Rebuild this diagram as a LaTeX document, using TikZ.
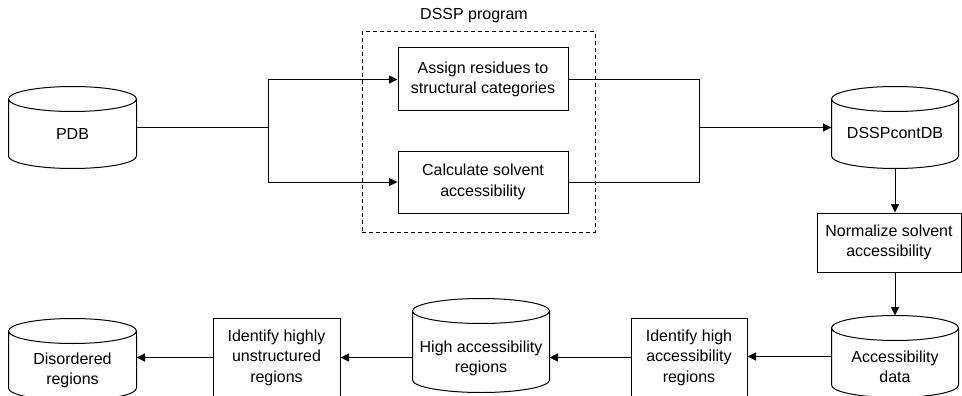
\documentclass[tikz,border=0pt]{standalone}
\usepackage{fontspec}
\setmainfont{Liberation Sans}
\usetikzlibrary{arrows.meta,calc}
\begin{document}
\begin{tikzpicture}[x=1pt,y=-1pt,line width=1pt,
    font=\fontsize{16}{20.5}\selectfont,
    proc/.style={draw,align=center,inner sep=0pt},
    db/.style={inner sep=0pt,minimum width=126pt,minimum height=81pt},
    dbtext/.style={align=center,yshift=#1},
    dbtext/.default=-6pt,
    arr/.style={-{Triangle[length=8.5pt,width=8pt]}}]
    \useasboundingbox (0,0) rectangle (962,396);
    %
    \node[draw,dash pattern=on 4pt off 3pt,minimum width=233pt,minimum height=200pt] (dssp) at (478.5,132) {};
    \node (dssptitle) at (474,16) {DSSP program};
    %
    \node[db,minimum width=127pt,label={[dbtext]center:PDB}] (pdb) at (72.5,127.5) {};
    \node[db,label={[dbtext=-5pt]center:DSSPcontDB}] (dsspdb) at (895,127.5) {};
    \node[db,label={[dbtext=-10.5pt]center:Accessibility\\data}] (accdata) at (895,356.5) {};
    \node[db,minimum width=136pt,minimum height=93pt,label={[dbtext=-13pt]center:High accessibility\\regions}] (highacc) at (481,345.5) {};
    \node[db,minimum width=127pt,label={[dbtext=-11pt]center:Disordered\\regions}] (disord) at (72.5,359.5) {};
    %
    \foreach \db in {pdb,dsspdb,accdata,highacc,disord}
      \draw let \p1=(\db.north west), \p2=(\db.south east), \n1={(\x2-\x1)/2} in
        (\x1,\y1-12.5pt) -- (\x1,\y2+12.5pt)
        arc[start angle=180,end angle=360,x radius=\n1,y radius=12.5pt]
        -- (\x2,\y1-12.5pt)
        arc[start angle=0,end angle=360,x radius=\n1,y radius=12.5pt];
    %
    \node[proc,minimum width=170pt,minimum height=63pt] (assign) at (483,79.5) {Assign residues to\\structural categories};
    \node[proc,minimum width=170pt,minimum height=62pt] (calc) at (483,182) {Calculate solvent\\accessibility};
    \node[proc,minimum width=144pt,minimum height=59pt] (norm) at (889,242.5) {Normalize solvent\\accessibility};
    \node[proc,minimum width=116pt,minimum height=79pt] (idhigh) at (689,357.5) {Identify high\\accessibility\\regions};
    \node[proc,minimum width=127pt,minimum height=79pt] (idunstr) at (276.5,357.5) {Identify highly\\unstructured\\regions};
    %
    \coordinate (split) at (268,127.5);
    \coordinate (merge) at (699,127.5);
    \draw (pdb.east) -- (split);
    \draw[arr] (split) |- (assign.west);
    \draw[arr] (split) |- (calc.west);
    \draw (assign.east) -| (merge);
    \draw (calc.east) -| (merge);
    \draw[arr] (merge) -- (dsspdb.west);
    %
    \draw[arr] (dsspdb.south) -- (dsspdb.south |- norm.north);
    \draw[arr] (norm.south -| accdata.north) -- (accdata.north);
    %
    \draw[arr] (accdata.west) -- (accdata.west -| idhigh.east);
    \draw[arr] (idhigh.west) -- (idhigh.west -| highacc.east);
    \draw[arr] (idunstr.east -| highacc.west) -- (idunstr.east);
    \draw[arr] (idunstr.west) -- (idunstr.west -| disord.east);
\end{tikzpicture}
\end{document}
